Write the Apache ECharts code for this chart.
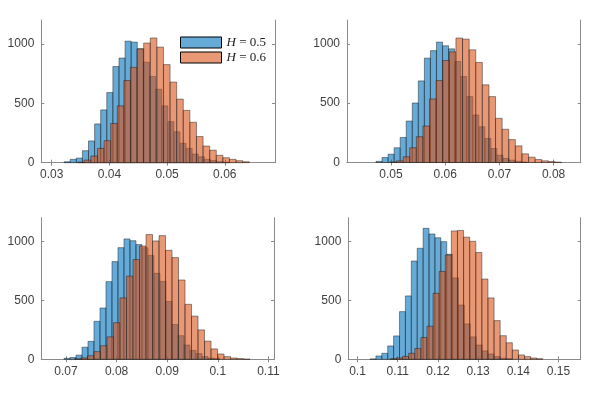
<!DOCTYPE html>
<html><head><meta charset="utf-8">
<script src="https://cdn.jsdelivr.net/npm/echarts@6/dist/echarts.min.js"></script>
<style>html,body{margin:0;padding:0;background:#fff}#c{width:598px;height:394px}</style>
</head><body><div id="c"></div>
<script>
// ---- data (bin start, bin width, counts) ----
const seriesNames = ['H = 0.5', 'H = 0.6'];

const p1BlueStart = 0.03215, p1BlueWidth = 0.001057;
const p1Blue = [8,28,39,101,183,326,444,590,809,880,1022,1014,958,845,725,618,478,345,260,163,121,73,50,28,18,8,4];
const p1OrangeStart = 0.0345, p1OrangeWidth = 0.001144;
const p1Orange = [5,22,56,120,185,330,478,691,802,957,1006,1049,972,825,678,535,440,340,220,140,105,62,42,28,17,8];

const p2BlueStart = 0.04723, p2BlueWidth = 0.001116;
const p2Blue = [10,42,70,124,211,349,501,687,879,942,1014,983,957,851,724,555,400,301,203,118,62,34,20,10,5];
const p2OrangeStart = 0.0498, p2OrangeWidth = 0.001218;
const p2Orange = [5,14,48,124,217,307,535,690,859,932,1048,1039,949,843,654,555,372,280,193,140,73,45,25,14,8,3];

const p3BlueStart = 0.0696, p3BlueWidth = 0.001186;
const p3Blue = [8,15,35,102,152,322,435,658,828,946,1020,1005,972,945,880,729,660,490,295,200,121,75,48,23,10,5];
const p3OrangeStart = 0.07168, p3OrangeWidth = 0.001285;
const p3Orange = [4,12,30,65,115,190,310,520,705,845,960,1057,1003,1048,924,862,672,466,366,249,154,88,45,23,11,6,2];

const p4BlueStart = 0.10311, p4BlueWidth = 0.001468;
const p4Blue = [3,28,51,113,198,404,537,833,941,1110,1062,1030,997,890,690,460,300,190,121,71,45,23,10,5];
const p4OrangeStart = 0.10818, p4OrangeWidth = 0.001517;
const p4Orange = [5,12,25,51,92,185,280,560,745,884,1088,1092,1035,1000,905,680,520,328,200,140,79,37,23,11,5];

const xTicks = [
  [0.03,0.04,0.05,0.06],
  [0.05,0.06,0.07,0.08],
  [0.07,0.08,0.09,0.1,0.11],
  [0.1,0.11,0.12,0.13,0.14,0.15]
];
const xRanges = [[0.0282,0.0687],[0.04188,0.0850],[0.06512,0.11111],[0.09771,0.15552]];
const yTicks = [0,500,1000];
const yMax = 1200;

// ---- chart ----
const panels = [
  {blue:[p1BlueStart,p1BlueWidth,p1Blue], orange:[p1OrangeStart,p1OrangeWidth,p1Orange]},
  {blue:[p2BlueStart,p2BlueWidth,p2Blue], orange:[p2OrangeStart,p2OrangeWidth,p2Orange]},
  {blue:[p3BlueStart,p3BlueWidth,p3Blue], orange:[p3OrangeStart,p3OrangeWidth,p3Orange]},
  {blue:[p4BlueStart,p4BlueWidth,p4Blue], orange:[p4OrangeStart,p4OrangeWidth,p4Orange]}
];
const grids = [
  {left:41.3, top:20, width:233.7, height:142.7},
  {left:347, top:20, width:233.7, height:142.5},
  {left:41.3, top:217.7, width:232.7, height:141.6},
  {left:348.3, top:217.7, width:232.4, height:141.6}
];
const BLUE = 'rgba(0,114,189,0.6)';
const ORANGE = 'rgba(217,83,25,0.6)';
const AX = '#8a8a8a';
const LBL = '#404040';
const fmtX = v => String(Math.round(v*1000)/1000);
const fmtY = v => String(Math.round(v));

function binsData(spec){
  const [s,w,c] = spec;
  return c.map((v,i)=>[s+i*w, s+(i+1)*w, v]);
}
function makeRender(fill){
  return function(params, api){
    const p0 = api.coord([api.value(0), api.value(2)]);
    const p1 = api.coord([api.value(1), 0]);
    return {type:'rect', shape:{x:p0[0], y:p0[1], width:p1[0]-p0[0], height:p1[1]-p0[1]},
      style:{fill:fill, stroke:'rgba(25,25,25,0.65)', lineWidth:0.7}};
  };
}

const xAxis = [], yAxis = [], series = [];
grids.forEach((g,i)=>{
  xAxis.push({type:'value', gridIndex:i, min:xRanges[i][0], max:xRanges[i][1], position:'bottom',
    splitLine:{show:false}, axisLine:{show:true, lineStyle:{color:AX, width:1}},
    axisTick:{show:true, inside:true, length:3, customValues:xTicks[i], lineStyle:{color:AX}},
    axisLabel:{show:true, customValues:xTicks[i], formatter:fmtX, color:LBL, fontSize:12, margin:6, fontFamily:'Liberation Sans, Arial, sans-serif'}});
  yAxis.push({type:'value', gridIndex:i, min:0, max:yMax, position:'left',
    splitLine:{show:false}, axisLine:{show:true, lineStyle:{color:AX, width:1}},
    axisTick:{show:true, inside:true, length:3, customValues:yTicks, lineStyle:{color:AX}},
    axisLabel:{show:true, customValues:yTicks, formatter:fmtY, color:LBL, fontSize:12, margin:7, fontFamily:'Liberation Sans, Arial, sans-serif'}});
});
grids.forEach((g,i)=>{
  xAxis.push({type:'value', gridIndex:i, min:xRanges[i][0], max:xRanges[i][1], position:'top',
    splitLine:{show:false}, axisLine:{show:true, lineStyle:{color:AX, width:1}},
    axisTick:{show:true, inside:true, length:3, customValues:xTicks[i], lineStyle:{color:AX}},
    axisLabel:{show:false}});
  yAxis.push({type:'value', gridIndex:i, min:0, max:yMax, position:'right',
    splitLine:{show:false}, axisLine:{show:true, lineStyle:{color:AX, width:1}},
    axisTick:{show:true, inside:true, length:3, customValues:yTicks, lineStyle:{color:AX}},
    axisLabel:{show:false}});
});
panels.forEach((p,i)=>{
  series.push({type:'custom', name:seriesNames[0], xAxisIndex:i, yAxisIndex:i,
    renderItem:makeRender(BLUE), itemStyle:{color:BLUE}, encode:{x:[0,1], y:2},
    data:binsData(p.blue), silent:true, z:2});
  series.push({type:'custom', name:seriesNames[1], xAxisIndex:i, yAxisIndex:i,
    renderItem:makeRender(ORANGE), itemStyle:{color:ORANGE}, encode:{x:[0,1], y:2},
    data:binsData(p.orange), silent:true, z:3});
});

const chart = echarts.init(document.getElementById('c'), null, {renderer:'canvas'});
chart.setOption({
  animation:false,
  backgroundColor:'#ffffff',
  grid:grids,
  xAxis:xAxis, yAxis:yAxis, series:series,
  legend:{
    data:seriesNames, left:175, top:31, orient:'vertical', icon:'rect',
    itemWidth:41, itemHeight:11, itemGap:2,
    itemStyle:{borderColor:'#000', borderWidth:1},
    formatter:n => '{i|H} = ' + n.split('= ')[1],
    textStyle:{fontFamily:'Liberation Serif, serif', fontSize:13, color:'#222',
      rich:{i:{fontStyle:'italic', fontFamily:'Liberation Serif, serif', fontSize:13, color:'#222'}}}
  }
});
</script></body></html>
